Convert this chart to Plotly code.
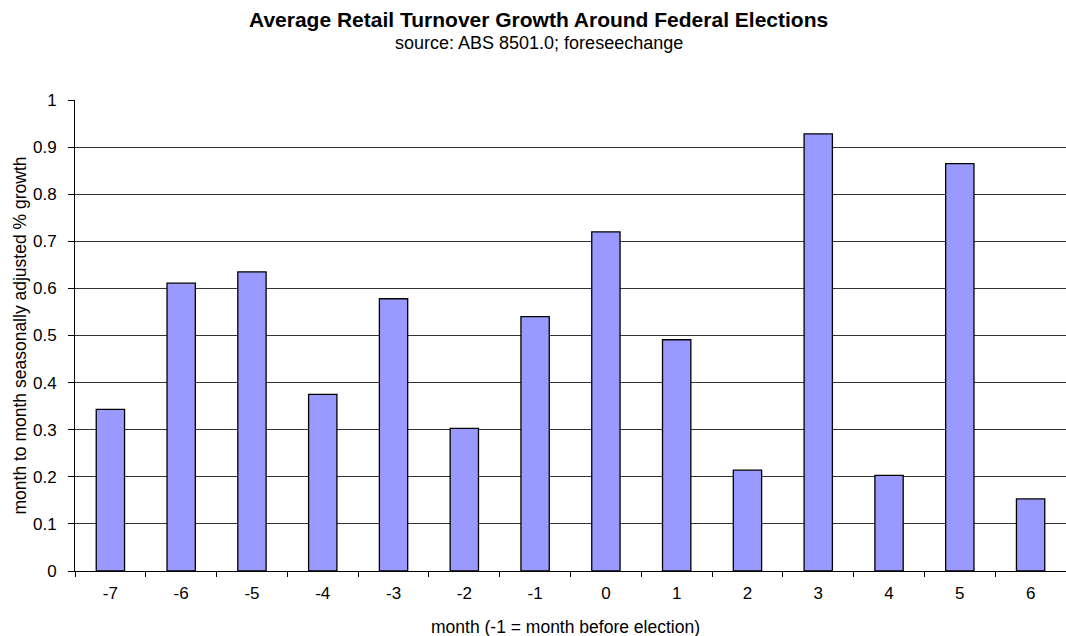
import plotly.graph_objects as go

months = ["-7", "-6", "-5", "-4", "-3", "-2", "-1", "0", "1", "2", "3", "4", "5", "6"]
growth = [0.343, 0.611, 0.635, 0.375, 0.578, 0.303, 0.540, 0.720, 0.491, 0.214, 0.928, 0.203, 0.865, 0.153]
y_ticks = [0, 0.1, 0.2, 0.3, 0.4, 0.5, 0.6, 0.7, 0.8, 0.9, 1]
y_tick_labels = ["0", "0.1", "0.2", "0.3", "0.4", "0.5", "0.6", "0.7", "0.8", "0.9", "1"]

font = "Liberation Sans, Arial, sans-serif"

fig = go.Figure(go.Bar(
    x=months, y=growth,
    marker=dict(color="#9999FF", line=dict(color="black", width=1.3)),
))

fig.update_layout(
    width=1066, height=636,
    margin=dict(l=75, r=0, t=100, b=65),
    paper_bgcolor="white", plot_bgcolor="white",
    bargap=0.6,
    showlegend=False,
    font=dict(family=font, color="black", size=17),
)

fig.update_xaxes(
    type="category",
    tickson="boundaries", ticks="outside", ticklen=5, tickcolor="black",
    showline=True, linecolor="black", linewidth=1,
    showgrid=False,
    tickfont=dict(size=17),
    ticklabelstandoff=7,
    automargin=False,
)

fig.update_yaxes(
    range=[0, 1],
    tickvals=y_ticks, ticktext=y_tick_labels,
    ticks="outside", ticklen=6, tickcolor="black",
    showline=True, linecolor="black", linewidth=1,
    showgrid=True, gridcolor="#333333", gridwidth=1,
    zeroline=False,
    tickfont=dict(size=17),
    ticklabelstandoff=8,
    automargin=False,
)

# titles
fig.add_annotation(text="<b>Average Retail Turnover Growth Around Federal Elections</b>",
                   xref="paper", yref="paper", x=0.468, y=1, yshift=81, xanchor="center",
                   yanchor="middle", showarrow=False, font=dict(size=21, family=font))
fig.add_annotation(text="source: ABS 8501.0; foreseechange",
                   xref="paper", yref="paper", x=0.468, y=1, yshift=57, xanchor="center",
                   yanchor="middle", showarrow=False, font=dict(size=18, family=font))
fig.add_annotation(text="month (-1 = month before election)",
                   xref="paper", yref="paper", x=0.495, y=0, yshift=-56, xanchor="center",
                   yanchor="middle", showarrow=False, font=dict(size=17.5, family=font))
fig.add_annotation(text="month to month seasonally adjusted % growth",
                   xref="paper", yref="paper", x=0, y=0.5, xshift=-56, xanchor="center",
                   yanchor="middle", textangle=-90, showarrow=False,
                   font=dict(size=17.5, family=font))

fig.write_html("out.html")
